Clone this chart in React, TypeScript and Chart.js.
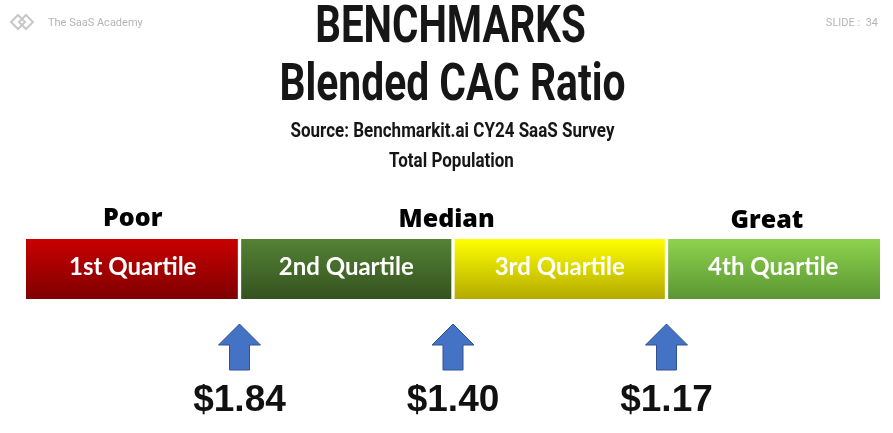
import React, { useEffect, useRef } from 'react';
import { Chart, registerables } from 'chart.js';

Chart.register(...registerables);

const titleLines = ['BENCHMARKS', 'Blended CAC Ratio'];
const subtitleLines = ['Source: Benchmarkit.ai CY24 SaaS Survey', 'Total Population'];
const quartiles = ['1st Quartile', '2nd Quartile', '3rd Quartile', '4th Quartile'];
const quartileWidths = [1, 1, 1, 1];
const ratings = ['Poor', 'Median', 'Great'];
const ratingAt = [0.5, 1.97, 3.47];
const benchmarks = [1.84, 1.4, 1.17];
const benchmarkAt = [1, 2, 3];

const topColors = ['#c90000', '#548235', '#ffff00', '#8fd24e'];
const bottomColors = ['#7f0000', '#34521f', '#b3aa00', '#5a9633'];

// Roboto squeezed sideways, as a stand-in for Roboto Condensed
const narrowText = (ctx: any, text: string, cx: number, cy: number, font: string, sx: number) => {
    ctx.save();
    ctx.font = font;
    ctx.translate(cx, cy);
    ctx.scale(sx, 1);
    ctx.fillText(text, 0, 0);
    ctx.restore();
};

const overlay = {
    id: 'overlay',
    afterDraw(chart: any) {
        const { ctx, chartArea } = chart;
        const x = chart.scales.x;
        const midY = (chartArea.top + chartArea.bottom) / 2;
        const cx0 = chart.width / 2;
        ctx.save();
        ctx.textBaseline = 'middle';

        // logo + corner texts
        ctx.strokeStyle = '#c8c8c8';
        ctx.lineWidth = 2;
        [[18, 22], [26, 22]].forEach(([cx, cy]) => {
            ctx.beginPath();
            ctx.moveTo(cx - 7, cy);
            ctx.lineTo(cx, cy - 7);
            ctx.lineTo(cx + 7, cy);
            ctx.lineTo(cx, cy + 7);
            ctx.closePath();
            ctx.stroke();
        });
        ctx.fillStyle = '#b4b4b4';
        ctx.font = '11px Roboto';
        ctx.textAlign = 'left';
        ctx.fillText('The SaaS Academy', 48, 23);
        ctx.textAlign = 'right';
        ctx.fillText('SLIDE :  34', 878, 23);

        // titles
        ctx.textAlign = 'center';
        ctx.fillStyle = '#161616';
        narrowText(ctx, titleLines[0], cx0 + 4, 29, 'bold 51px Roboto', 0.79);
        narrowText(ctx, titleLines[1], cx0 + 6, 87, 'bold 51px Roboto', 0.8);
        narrowText(ctx, subtitleLines[0], cx0 + 6, 132, 'bold 20px Roboto', 0.85);
        narrowText(ctx, subtitleLines[1], cx0 + 5, 162, 'bold 20px Roboto', 0.85);

        // quartile labels
        ctx.fillStyle = '#ffffff';
        ctx.font = 'bold 24px Lato';
        let acc = 0;
        quartiles.forEach((q, i) => {
            const cx = x.getPixelForValue(acc + quartileWidths[i] / 2);
            acc += quartileWidths[i];
            ctx.fillText(q, cx, midY - 2);
        });

        // rating headers
        ctx.fillStyle = '#000000';
        ctx.font = "800 25px 'Open Sans'";
        ratings.forEach((r, i) => {
            ctx.fillText(r, x.getPixelForValue(ratingAt[i]), chartArea.top - 20 + i);
        });

        // arrows + values
        benchmarks.forEach((v, i) => {
            const cx = x.getPixelForValue(benchmarkAt[i]);
            const tip = chartArea.bottom + 25;
            const base = tip + 21;
            const bottom = tip + 46;
            ctx.beginPath();
            ctx.moveTo(cx, tip);
            ctx.lineTo(cx + 21, base);
            ctx.lineTo(cx + 10, base);
            ctx.lineTo(cx + 10, bottom);
            ctx.lineTo(cx - 10, bottom);
            ctx.lineTo(cx - 10, base);
            ctx.lineTo(cx - 21, base);
            ctx.closePath();
            ctx.fillStyle = '#4472c4';
            ctx.fill();
            ctx.strokeStyle = '#2f528f';
            ctx.lineWidth = 1;
            ctx.stroke();

            ctx.fillStyle = '#111111';
            ctx.font = "bold 37px 'Liberation Sans'";
            ctx.fillText('$' + v.toFixed(2), cx, chartArea.bottom + 102);
        });
        ctx.restore();
    },
};

const App: React.FC = () => {
    const chartRef = useRef<HTMLCanvasElement>(null);

    useEffect(() => {
        document.body.style.margin = '0';
        if (!chartRef.current) return;
        const chartInstance = new Chart(chartRef.current, {
            type: 'bar',
            data: {
                labels: ['CAC Ratio'],
                datasets: quartiles.map((q, i) => ({
                    label: q,
                    data: [quartileWidths[i]],
                    backgroundColor: (c: any) => {
                        const area = c.chart.chartArea;
                        if (!area) return topColors[i];
                        const g = c.chart.ctx.createLinearGradient(0, area.top, 0, area.bottom);
                        g.addColorStop(0, topColors[i]);
                        g.addColorStop(1, bottomColors[i]);
                        return g;
                    },
                    borderColor: '#ffffff',
                    borderWidth: {
                        left: i === 0 ? 0 : 2,
                        right: i === quartiles.length - 1 ? 0 : 2,
                        top: 0,
                        bottom: 0,
                    },
                    borderSkipped: false,
                    categoryPercentage: 1,
                    barPercentage: 1,
                })),
            },
            options: {
                indexAxis: 'y',
                animation: false,
                responsive: true,
                maintainAspectRatio: false,
                layout: { padding: { top: 239, left: 26, right: 13, bottom: 134 } },
                scales: {
                    x: { type: 'linear', stacked: true, min: 0, max: 4, display: false },
                    y: { stacked: true, display: false },
                },
                plugins: {
                    legend: { display: false },
                    tooltip: { enabled: false },
                },
            },
            plugins: [overlay],
        });

        return () => {
            chartInstance.destroy();
        };
    }, []);

    return (
        <div style={{ width: 893, height: 433, position: 'relative' }}>
            <canvas ref={chartRef} />
        </div>
    );
};

export default App;
